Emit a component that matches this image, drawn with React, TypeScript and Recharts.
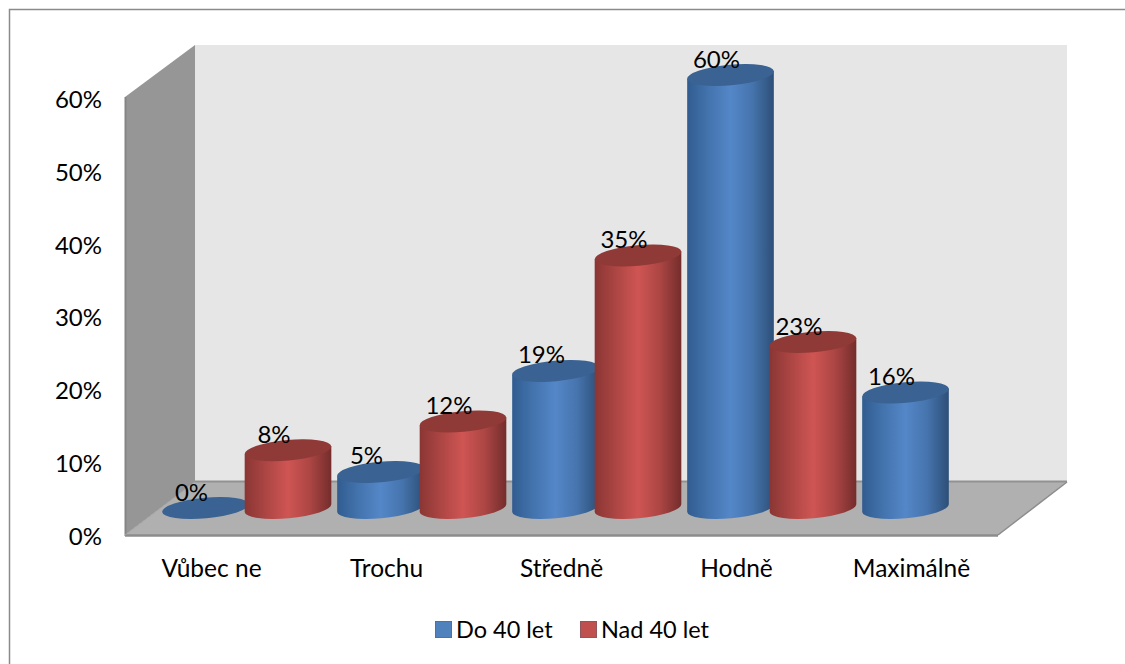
import React from 'react';
import { BarChart, Bar, XAxis, YAxis, LabelList, Legend, Customized } from 'recharts';

const categories = ['Vůbec ne', 'Trochu', 'Středně', 'Hodně', 'Maximálně'];
const under40 = [0, 5, 19, 60, 16];
const over40 = [8, 12, 35, 23, null];
const yTicks = [0, 10, 20, 30, 40, 50, 60];

const data = categories.map((name, i) => ({ name, under40: under40[i], over40: over40[i] }));

const FONT = 'Lato, sans-serif';
const TILT = -5.2;
const TILT_RAD = (TILT * Math.PI) / 180;
const RY = 10.3;

// left wall, back wall and floor of the 3D box
const Box: React.FC = () => (
  <g>
    <polyline points="9.5,664 9.5,9.5 1125,9.5" fill="none" stroke="#8a8a8a" strokeWidth={1.5} />
    <polygon points="195,45 1067,45 1067,482 195,482" fill="#e6e6e6" />
    <polygon points="125,97 195,45 195,482 125,535" fill="#969696" />
    <polygon points="125,535 195,482 1067,482 998,535" fill="#b0b0b0" />
    <line x1={125.5} y1={97} x2={125.5} y2={536} stroke="#858585" strokeWidth={2} />
    <line x1={125} y1={535.5} x2={998} y2={535.5} stroke="#8c8c8c" strokeWidth={2.5} />
    <line x1={195} y1={481.5} x2={1067} y2={481.5} stroke="#919191" strokeWidth={2} />
    <line x1={125} y1={535} x2={195} y2={482} stroke="#a4a4a4" strokeWidth={1} />
    <line x1={998} y1={535} x2={1067} y2={482} stroke="#8c8c8c" strokeWidth={1.5} />
  </g>
);

const Cylinder = (props: any) => {
  const { x, y, width, height, value, side, top } = props;
  const val = Array.isArray(value) ? value[1] : value;
  if (val === null || val === undefined || !Number.isFinite(y)) return null;
  const cx = x + width / 2;
  const rx = width / 2;
  const dx = rx * Math.cos(TILT_RAD);
  const dy = rx * Math.sin(TILT_RAD);
  const bottom = y + height;
  const lx = cx - dx;
  const rxp = cx + dx;
  const body = `M${lx},${y - dy} L${lx},${bottom - dy} A${rx},${RY} ${TILT} 0 0 ${rxp},${bottom + dy} L${rxp},${y + dy} Z`;
  return (
    <g>
      {val > 0 && <path d={body} fill={side} />}
      <ellipse cx={cx} cy={y} rx={rx} ry={RY} fill={top} transform={`rotate(${TILT} ${cx} ${y})`} />
    </g>
  );
};

const ValueLabel = (props: any) => {
  const { x, y, width, value } = props;
  if (value === null || value === undefined) return null;
  return (
    <text x={x + width / 2 - 14} y={y - 17} textAnchor="middle" dominantBaseline="central" fontFamily={FONT} fontSize={24} fill="#000">
      {`${value}%`}
    </text>
  );
};

// category labels sit on the front edge of the floor, in front of the bars
const CategoryTick = (props: any) => {
  const { x, y, payload } = props;
  return (
    <text x={x - 35} y={y + 26} textAnchor="middle" dominantBaseline="central" fontFamily={FONT} fontSize={24.5} fill="#000">
      {payload.value}
    </text>
  );
};

const PercentTick = (props: any) => {
  const { y, payload } = props;
  return (
    <text x={102} y={y} textAnchor="end" dominantBaseline="central" fontFamily={FONT} fontSize={24} fill="#000">
      {`${payload.value}%`}
    </text>
  );
};

const LegendRow = (props: any) => (
  <div style={{ position: 'relative', height: 40, fontFamily: FONT, fontSize: 23.5, color: '#000' }}>
    {(props.payload || []).map((item: any, i: number) => (
      <div key={item.value} style={{ position: 'absolute', left: i === 0 ? 435 : 580, top: 0, display: 'flex', alignItems: 'center', height: 32, whiteSpace: 'nowrap' }}>
        <span style={{ width: 15, height: 15, background: item.color, border: '1px solid rgba(90,90,110,0.45)', marginRight: 4, boxSizing: 'content-box' }} />
        {item.value}
      </div>
    ))}
  </div>
);

const App: React.FC = () => {
  return (
    <div style={{ position: 'absolute', left: 0, top: 0, width: 1125, height: 664, background: '#fff' }}>
      <BarChart
        width={1125}
        height={664}
        data={data}
        margin={{ top: 75, right: 91, bottom: 11, left: 0 }}
        barSize={87}
        barGap={-4.5}
        barCategoryGap={0}
      >
        <defs>
          <linearGradient id="sideBlue" x1="0" y1="0" x2="1" y2="0">
            <stop offset="0%" stopColor="#305c90" />
            <stop offset="25%" stopColor="#4474ae" />
            <stop offset="50%" stopColor="#5487c8" />
            <stop offset="75%" stopColor="#4674ad" />
            <stop offset="100%" stopColor="#2d4f78" />
          </linearGradient>
          <linearGradient id="sideRed" x1="0" y1="0" x2="1" y2="0">
            <stop offset="0%" stopColor="#8a3634" />
            <stop offset="25%" stopColor="#ad4644" />
            <stop offset="50%" stopColor="#cf5553" />
            <stop offset="75%" stopColor="#ac4644" />
            <stop offset="100%" stopColor="#742d2c" />
          </linearGradient>
        </defs>
        <Customized component={Box} />
        <XAxis
          dataKey="name"
          height={78}
          interval={0}
          axisLine={false}
          tickLine={false}
          tickMargin={0}
          tick={<CategoryTick />}
        />
        <YAxis
          yAxisId="front"
          width={159}
          domain={[0, 63.3]}
          ticks={yTicks}
          interval={0}
          allowDataOverflow
          axisLine={false}
          tickLine={false}
          tick={<PercentTick />}
        />
        <YAxis yAxisId="bars" hide domain={[-3.74, 60]} />
        <Legend verticalAlign="bottom" content={<LegendRow />} wrapperStyle={{ height: 40 }} />
        <Bar
          yAxisId="bars"
          dataKey="under40"
          name="Do 40 let"
          fill="#4f81bd"
          isAnimationActive={false}
          shape={<Cylinder side="url(#sideBlue)" top="#3a6292" />}
        >
          <LabelList dataKey="under40" content={<ValueLabel />} />
        </Bar>
        <Bar
          yAxisId="bars"
          dataKey="over40"
          name="Nad 40 let"
          fill="#c0504d"
          isAnimationActive={false}
          shape={<Cylinder side="url(#sideRed)" top="#903a38" />}
        >
          <LabelList dataKey="over40" content={<ValueLabel />} />
        </Bar>
      </BarChart>
    </div>
  );
};

export default App;
